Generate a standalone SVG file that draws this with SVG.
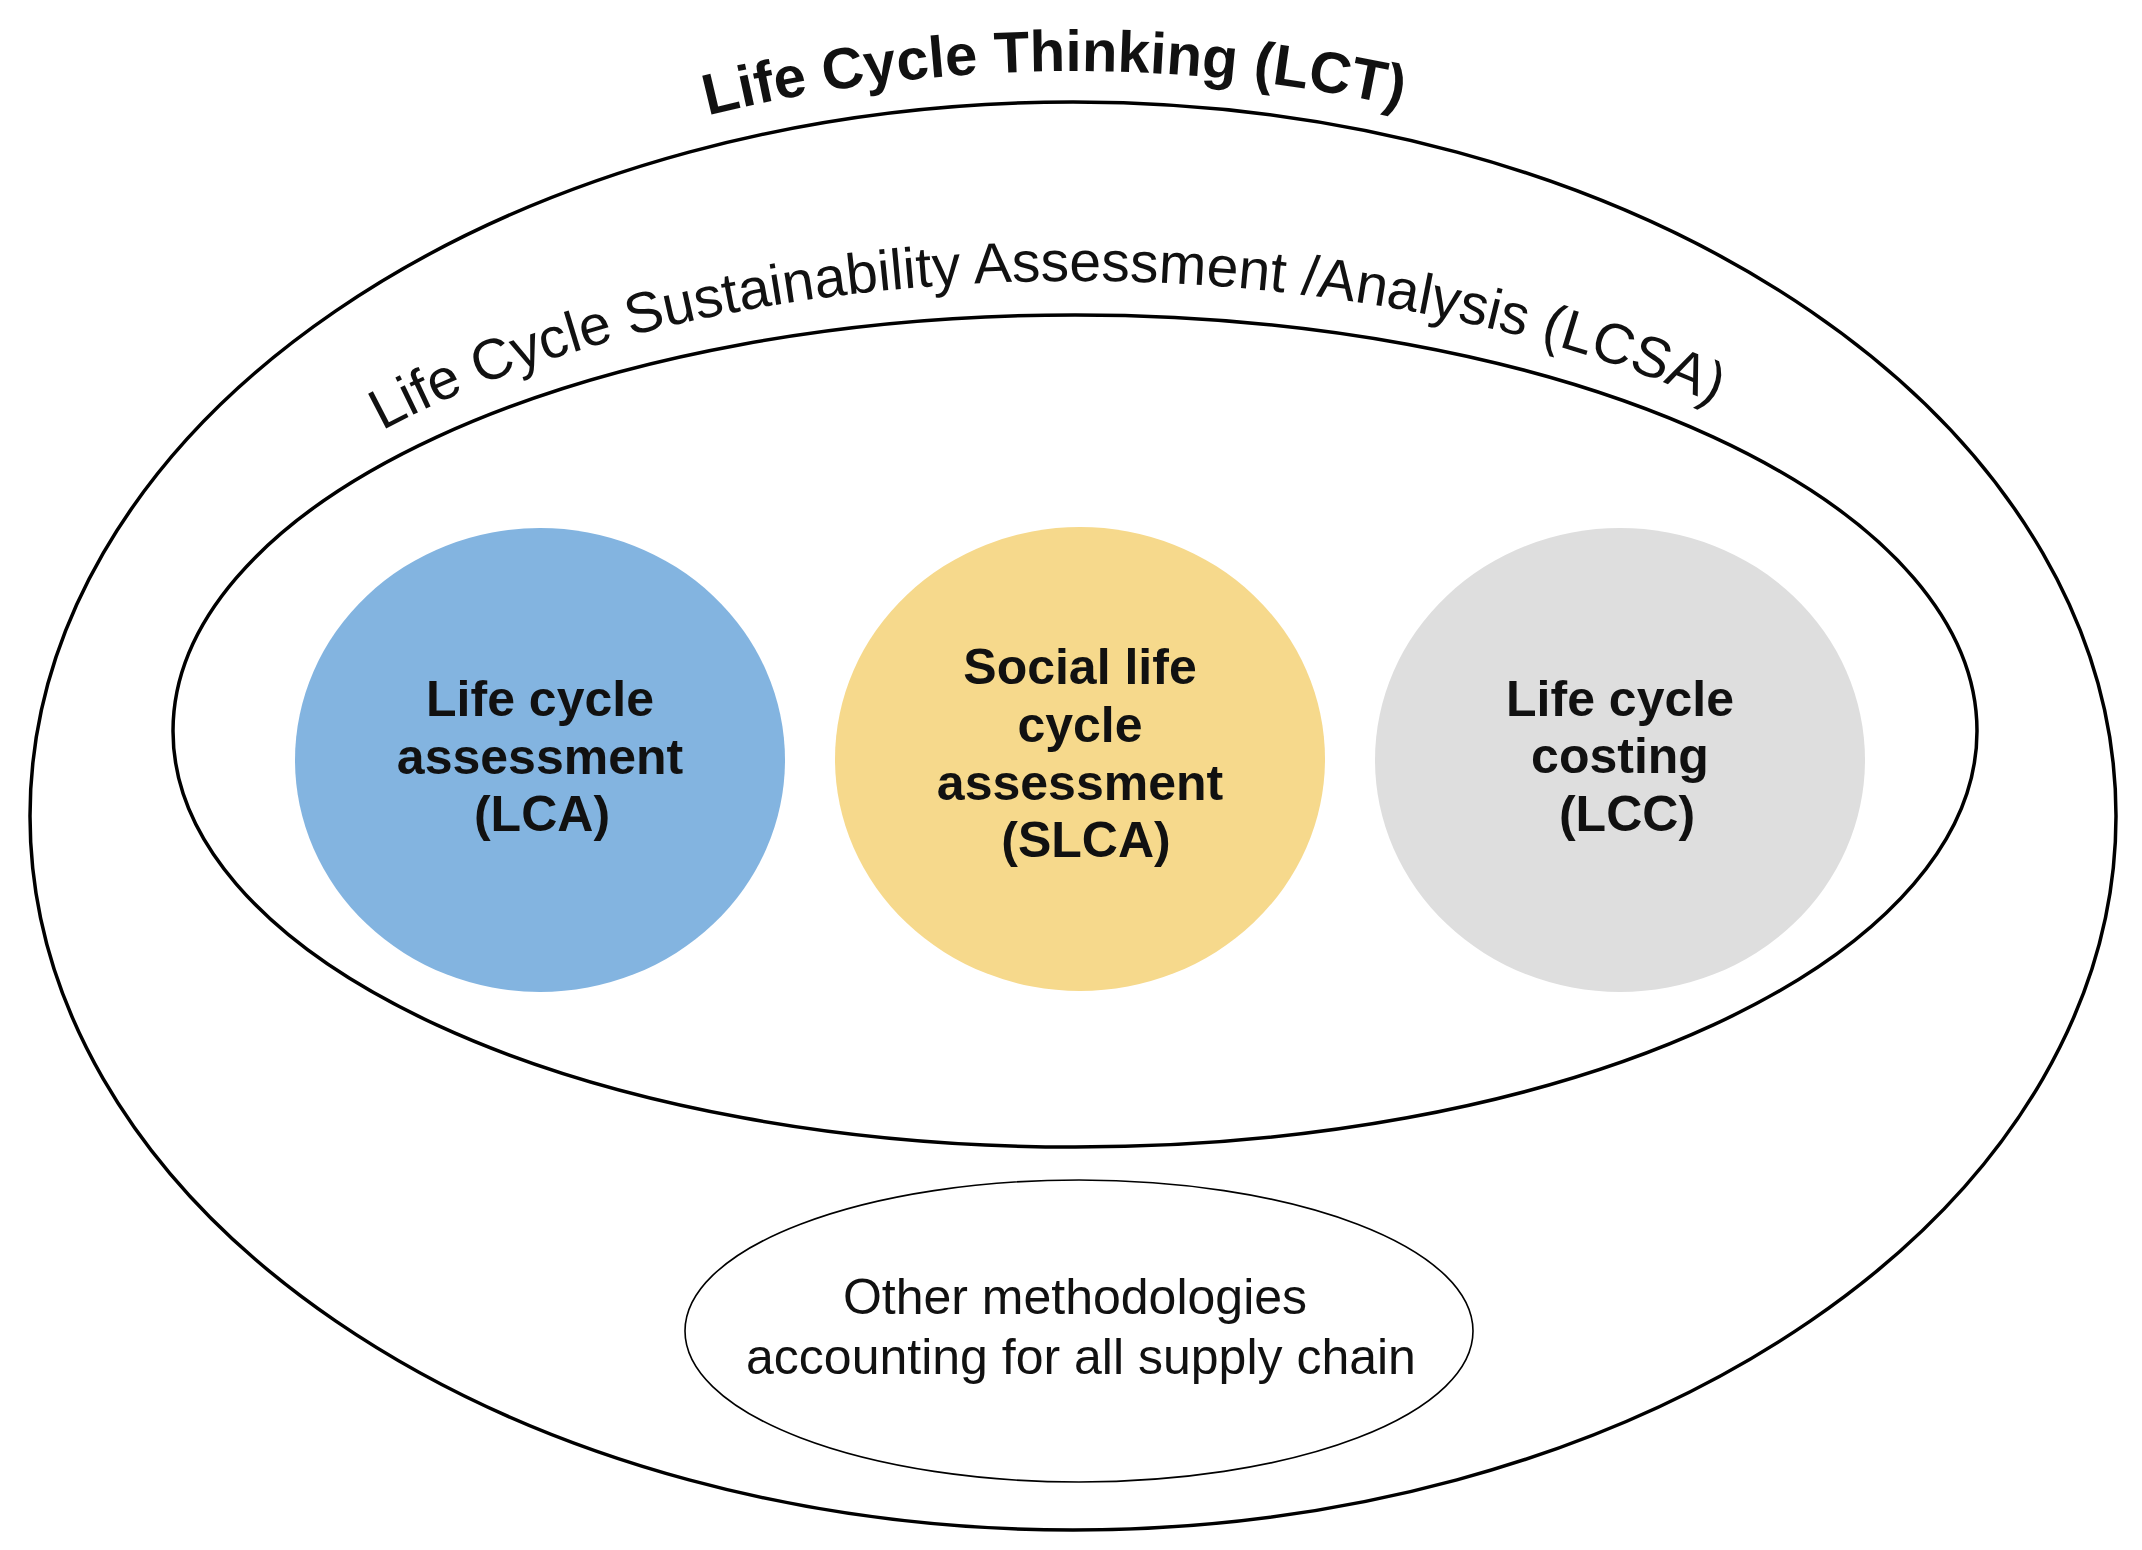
<svg xmlns="http://www.w3.org/2000/svg" width="2142" height="1550" viewBox="0 0 2142 1550">
  <style>
    .ring { fill: none; stroke: #000; stroke-width: 3.5; }
    .thin { fill: #fff; stroke: #000; stroke-width: 1.6; }
    .bold { font-family: "Liberation Sans", Arial, sans-serif; font-weight: bold; fill: #111; text-anchor: middle; }
    .reg { font-family: "Liberation Sans", Arial, sans-serif; fill: #111; text-anchor: middle; }
    .node { font-size: 50px; }
  </style>
  <defs>
    <path id="lctArc" d="M 500 186.4 A 1072 745 0 0 1 1646 186.4"/>
    <path id="lcsaArc" d="M 275 501.5 A 930 450 0 0 1 1875 501.5"/>
  </defs>
  <rect width="2142" height="1550" fill="#fff"/>

  <g id="lct">
    <ellipse class="ring" cx="1073" cy="816" rx="1043" ry="714"/>
    <text class="bold" font-size="58"><textPath href="#lctArc" startOffset="48.4%">Life Cycle Thinking (LCT)</textPath></text>
  </g>

  <g id="lcsa">
    <ellipse class="ring" cx="1075" cy="731" rx="902" ry="416"/>
    <text class="reg" font-size="57"><textPath href="#lcsaArc" startOffset="48.25%">Life Cycle Sustainability Assessment /Analysis (LCSA)</textPath></text>
  </g>

  <g id="lca">
    <ellipse cx="540" cy="760" rx="245" ry="232" fill="#83B4E0"/>
    <text class="bold node"><tspan x="540" y="716">Life cycle</tspan><tspan x="540" y="774">assessment</tspan><tspan x="542" y="831">(LCA)</tspan></text>
  </g>

  <g id="slca">
    <ellipse cx="1080" cy="759" rx="245" ry="232" fill="#F6D98C"/>
    <text class="bold node"><tspan x="1080" y="684">Social life</tspan><tspan x="1080" y="742">cycle</tspan><tspan x="1080" y="800">assessment</tspan><tspan x="1086" y="857">(SLCA)</tspan></text>
  </g>

  <g id="lcc">
    <ellipse cx="1620" cy="760" rx="245" ry="232" fill="#DEDEDE"/>
    <text class="bold node"><tspan x="1620" y="716">Life cycle</tspan><tspan x="1620" y="773">costing</tspan><tspan x="1627" y="831">(LCC)</tspan></text>
  </g>

  <g id="other">
    <ellipse class="thin" cx="1079" cy="1331" rx="394" ry="151"/>
    <text class="reg" font-size="50"><tspan x="1075" y="1314">Other methodologies</tspan><tspan x="1081" y="1374">accounting for all supply chain</tspan></text>
  </g>

  <g id="connectors"></g>
</svg>
